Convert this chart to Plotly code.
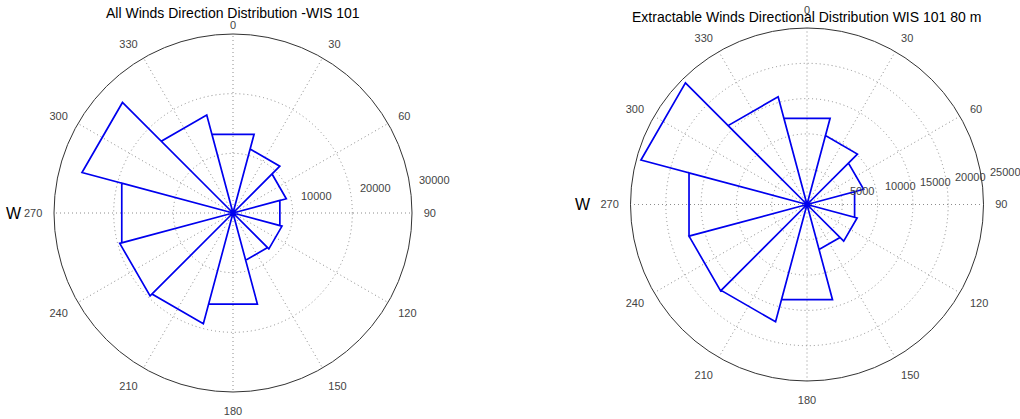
import math
import plotly.graph_objects as go

# ---------------- data ----------------
directions = [0, 30, 60, 90, 120, 150, 180, 210, 240, 270, 300, 330]
all_winds = [13650, 11100, 9250, 8130, 8500, 8200, 15800, 19200, 19650, 19300, 26200, 17000]
extractable_winds = [12640, 10100, 8300, 6980, 7350, 6600, 13960, 17200, 17300, 17300, 24350, 15800]
angle_ticks = [0, 30, 60, 90, 120, 150, 180, 210, 240, 270, 300, 330]
left_rticks = [10000, 20000, 30000]
right_rticks = [5000, 10000, 15000, 20000, 25000]
left_title = "All Winds Direction Distribution -WIS 101"
right_title = "Extractable Winds Directional Distribution WIS 101 80 m"

W, H = 1020, 419
BIN = 30
FONT = "Liberation Sans, Arial, sans-serif"


def rose_path(values, centers, width):
    th, rr = [], []
    for c, v in zip(centers, values):
        a, b = c - width / 2, c + width / 2
        th += [a, a, b, b]
        rr += [0, v, v, 0]
    return th, rr


fig = go.Figure()
th, rr = rose_path(all_winds, directions, BIN)
fig.add_trace(go.Scatterpolar(theta=th, r=rr, mode="lines", subplot="polar",
                              line=dict(color="#0000ee", width=1.7), hoverinfo="skip"))
th, rr = rose_path(extractable_winds, directions, BIN)
fig.add_trace(go.Scatterpolar(theta=th, r=rr, mode="lines", subplot="polar2",
                              line=dict(color="#0000ee", width=1.7), hoverinfo="skip"))

# geometry (pixels): center and radius of each polar plot
geo = {
    "polar": dict(cx=233, cy=213, R=179, rticks=left_rticks, top_label_gap=9, w_gap=30),
    "polar2": dict(cx=807, cy=204.5, R=176.5, rticks=right_rticks, top_label_gap=None, w_gap=38),
}

GRID = "#8c8c8c"
GDASH = "1px,3px"


def polar_layout(g):
    rmax = g["rticks"][-1]
    labels = [str(a) for a in angle_ticks]
    if g["top_label_gap"] is not None:
        labels[0] = ""  # drawn separately, closer to the circle
    return dict(
        domain=dict(x=[(g["cx"] - g["R"]) / W, (g["cx"] + g["R"]) / W],
                    y=[(H - g["cy"] - g["R"]) / H, (H - g["cy"] + g["R"]) / H]),
        bgcolor="white",
        angularaxis=dict(rotation=90, direction="clockwise", tickmode="array",
                         tickvals=angle_ticks, ticktext=labels,
                         showgrid=True, gridcolor=GRID, griddash=GDASH, gridwidth=1,
                         showline=True, linecolor="#333333", linewidth=1,
                         ticks="outside", ticklen=9, tickcolor="rgba(0,0,0,0)",
                         tickfont=dict(size=11, color="#444444", family=FONT)),
        radialaxis=dict(range=[0, rmax], tickvals=g["rticks"][:-1], showticklabels=False,
                        showline=False, ticks="", showgrid=True, gridcolor=GRID,
                        griddash=GDASH, gridwidth=1),
    )


fig.update_layout(
    width=W, height=H, margin=dict(l=0, r=0, t=0, b=0),
    paper_bgcolor="white", plot_bgcolor="white", showlegend=False,
    font=dict(family=FONT),
    polar=polar_layout(geo["polar"]),
    polar2=polar_layout(geo["polar2"]),
)

ann = []
for key, g in geo.items():
    rmax = g["rticks"][-1]
    rinc = g["rticks"][1] - g["rticks"][0]
    s = g["R"] / rmax
    ang = math.radians(8)
    # radial tick labels (MATLAB style: along 82 deg from north, offset outward)
    for v in g["rticks"]:
        d = (v + rinc / 20) * s
        px = g["cx"] + d * math.cos(ang)
        py = g["cy"] - d * math.sin(ang)
        ann.append(dict(x=px / W, y=1 - py / H, xref="paper", yref="paper",
                        text=str(v), showarrow=False, xanchor="left", yanchor="bottom",
                        xshift=4, font=dict(size=11, color="#444444", family=FONT)))
    # "W" label
    ann.append(dict(x=(g["cx"] - g["R"] - g["w_gap"]) / W, y=1 - g["cy"] / H,
                    xref="paper", yref="paper",
                    text="W", showarrow=False, xanchor="right", yanchor="middle",
                    font=dict(size=16, color="black", family=FONT)))
    if g["top_label_gap"] is not None:
        ann.append(dict(x=g["cx"] / W, y=1 - (g["cy"] - g["R"] - g["top_label_gap"]) / H,
                        xref="paper", yref="paper", text=str(angle_ticks[0]), showarrow=False,
                        xanchor="center", yanchor="middle",
                        font=dict(size=11, color="#444444", family=FONT)))

ann.append(dict(x=233 / W, y=1 - 13 / H, xref="paper", yref="paper", text=left_title,
                showarrow=False, xanchor="center", yanchor="middle",
                font=dict(size=14, color="black", family=FONT)))
ann.append(dict(x=806 / W, y=1 - 17 / H, xref="paper", yref="paper", text=right_title,
                showarrow=False, xanchor="center", yanchor="middle",
                font=dict(size=14, color="black", family=FONT)))
fig.update_layout(annotations=ann)

fig.write_html("out.html", config={"displayModeBar": False, "staticPlot": True},
               post_script="document.body.style.margin='0';document.body.style.overflow='hidden';")
